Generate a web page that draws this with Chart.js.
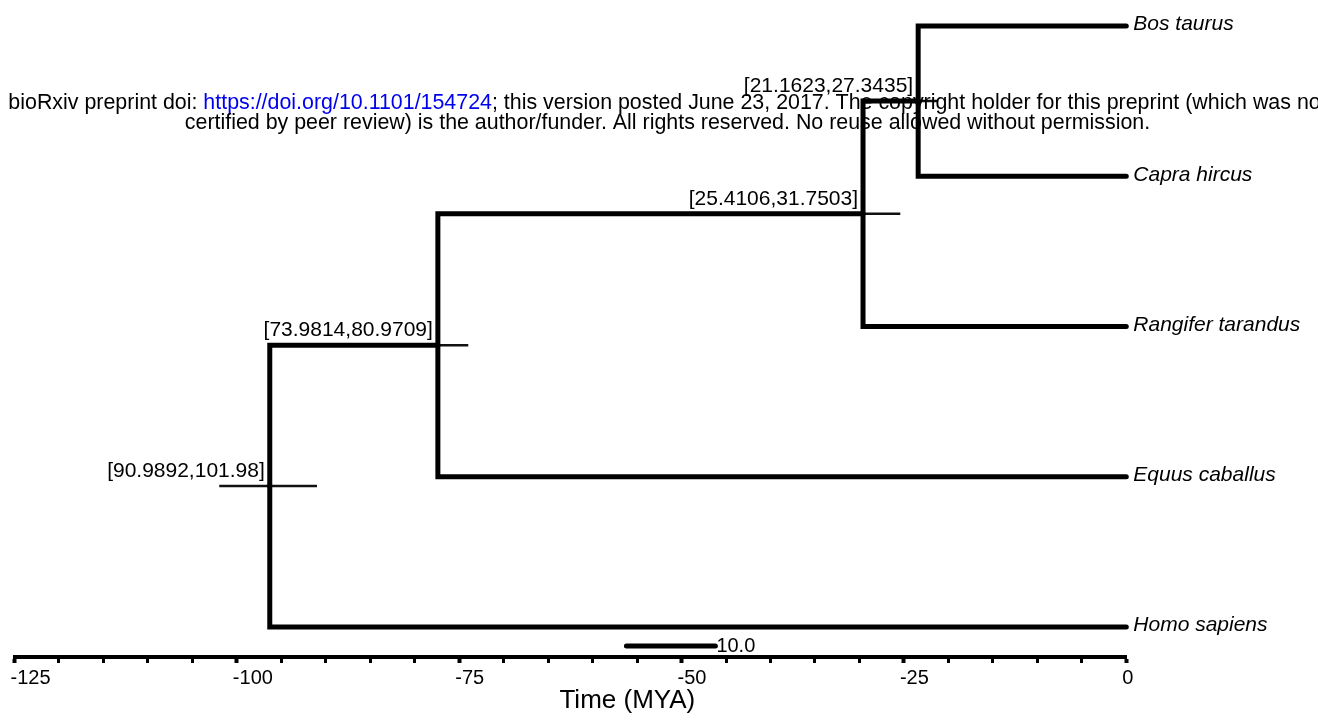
<!DOCTYPE html>
<html>
<head>
<meta charset="utf-8">
<script src="https://cdn.jsdelivr.net/npm/chart.js@4.4.1/dist/chart.umd.min.js"></script>
<style>
  html, body { margin: 0; padding: 0; background: #fff; }
  #tree { display: block; }
</style>
</head>
<body>
<canvas id="tree" width="1318" height="720"></canvas>
<script>
// tips, top to bottom
const taxa = ["Bos taurus", "Capra hircus", "Rangifer tarandus", "Equus caballus", "Homo sapiens"];
const taxaAges = [0, 0, 0, 0, 0];

// internal nodes (ages in MYA, negative = past)
const nodeIds = ["N1", "N2", "N3", "N4"];
const nodeChildren = [
  ["Bos taurus", "Capra hircus"],
  ["N1", "Rangifer tarandus"],
  ["N2", "Equus caballus"],
  ["N3", "Homo sapiens"]
];
const nodeAges = [-23.4, -29.6, -77.4, -96.3];
const hpdLow = [21.1623, 25.4106, 73.9814, 90.9892];
const hpdHigh = [27.3435, 31.7503, 80.9709, 101.98];
const hpdLabels = ["[21.1623,27.3435]", "[25.4106,31.7503]", "[73.9814,80.9709]", "[90.9892,101.98]"];

const axisTicks = [-125, -100, -75, -50, -25, 0];
const scaleBarStart = -56.2;
const scaleBarLength = 10.0;
const scaleBarRow = 4.127;

const FONT = "'Liberation Sans', Arial, Helvetica, sans-serif";

// positions of every tip / node
const pos = {};
taxa.forEach((t, i) => { pos[t] = { x: taxaAges[i], y: i }; });
nodeIds.forEach((id, i) => {
  const kids = nodeChildren[i].map(c => pos[c]);
  pos[id] = { x: nodeAges[i], y: kids.reduce((s, k) => s + k.y, 0) / kids.length };
});

const datasets = [];
nodeIds.forEach((id, i) => {
  nodeChildren[i].forEach(c => {
    datasets.push({
      data: [
        { x: pos[id].x, y: pos[id].y },
        { x: pos[id].x, y: pos[c].y },
        { x: pos[c].x, y: pos[c].y }
      ],
      borderColor: "#000",
      borderWidth: 5,
      borderCapStyle: "round",
      borderJoinStyle: "miter"
    });
  });
});
nodeIds.forEach((id, i) => {
  datasets.push({
    data: [{ x: -hpdHigh[i], y: pos[id].y }, { x: -hpdLow[i], y: pos[id].y }],
    borderColor: "#111",
    borderWidth: 2.5
  });
});
datasets.push({
  data: [{ x: scaleBarStart, y: scaleBarRow }, { x: scaleBarStart + scaleBarLength, y: scaleBarRow }],
  borderColor: "#000",
  borderWidth: 5,
  borderCapStyle: "round"
});
datasets.forEach(d => {
  d.showLine = true;
  d.pointRadius = 0;
  d.fill = false;
  d.tension = 0;
  d.clip = false;
});

const labelsPlugin = {
  id: "treeLabels",
  afterDraw(chart) {
    const ctx = chart.ctx;
    const xs = chart.scales.x, ys = chart.scales.y;
    ctx.save();
    ctx.fillStyle = "#000";

    // tip names
    ctx.font = "italic 21px " + FONT;
    ctx.textAlign = "left";
    ctx.textBaseline = "alphabetic";
    taxa.forEach(t => {
      ctx.fillText(t, xs.getPixelForValue(pos[t].x) + 7, ys.getPixelForValue(pos[t].y) + 4.5);
    });

    // HPD intervals
    ctx.font = "21px " + FONT;
    ctx.textAlign = "right";
    nodeIds.forEach((id, i) => {
      ctx.fillText(hpdLabels[i], xs.getPixelForValue(pos[id].x) - 5, ys.getPixelForValue(pos[id].y) - 9);
    });

    // scale bar label
    ctx.font = "20px " + FONT;
    ctx.textAlign = "left";
    ctx.textBaseline = "middle";
    ctx.fillText(scaleBarLength.toFixed(1), xs.getPixelForValue(scaleBarStart + scaleBarLength) + 1, ys.getPixelForValue(scaleBarRow));

    // axis title
    ctx.font = "26px " + FONT;
    ctx.textAlign = "center";
    ctx.fillText("Time (MYA)", xs.getPixelForValue(-56.1), 701);

    // preprint stamp
    ctx.font = "21.4px " + FONT;
    ctx.textBaseline = "alphabetic";
    const a = "bioRxiv preprint doi: ";
    const url = "https://doi.org/10.1101/154724";
    const b = "; this version posted June 23, 2017. The copyright holder for this preprint (which was not";
    const w = ctx.measureText(a + url + b).width;
    let x = 667.5 - w / 2;
    ctx.textAlign = "left";
    ctx.fillText(a, x, 108.5);
    x += ctx.measureText(a).width;
    ctx.fillStyle = "#0000ee";
    ctx.fillText(url, x, 108.5);
    x += ctx.measureText(url).width;
    ctx.fillStyle = "#000";
    ctx.fillText(b, x, 108.5);
    ctx.textAlign = "center";
    ctx.fillText("certified by peer review) is the author/funder. All rights reserved. No reuse allowed without permission.", 667.5, 128.5);
    ctx.restore();
  }
};

new Chart(document.getElementById("tree"), {
  type: "scatter",
  data: { datasets: datasets },
  options: {
    responsive: false,
    animation: false,
    layout: { padding: { left: 14.5, right: 191.7, top: 0, bottom: 0 } },
    plugins: { legend: { display: false }, tooltip: { enabled: false } },
    scales: {
      x: {
        type: "linear",
        min: -125,
        max: 0,
        afterFit: s => { s.height = 63; },
        border: { display: true, color: "#000", width: 4 },
        grid: {
          drawOnChartArea: false,
          drawTicks: true,
          tickLength: 6,
          tickWidth: c => (c.tick && axisTicks.includes(c.tick.value)) ? 4 : 3,
          tickColor: "#000"
        },
        ticks: {
          stepSize: 5,
          autoSkip: false,
          maxRotation: 0,
          minRotation: 0,
          align: "start",
          labelOffset: -4,
          padding: 3,
          color: "#000",
          font: { family: FONT, size: 20 },
          callback: v => axisTicks.includes(v) ? String(v) : ""
        }
      },
      y: {
        type: "linear",
        display: false,
        reverse: true,
        min: -0.173,
        max: 4.2
      }
    }
  },
  plugins: [labelsPlugin]
});
</script>
</body>
</html>
